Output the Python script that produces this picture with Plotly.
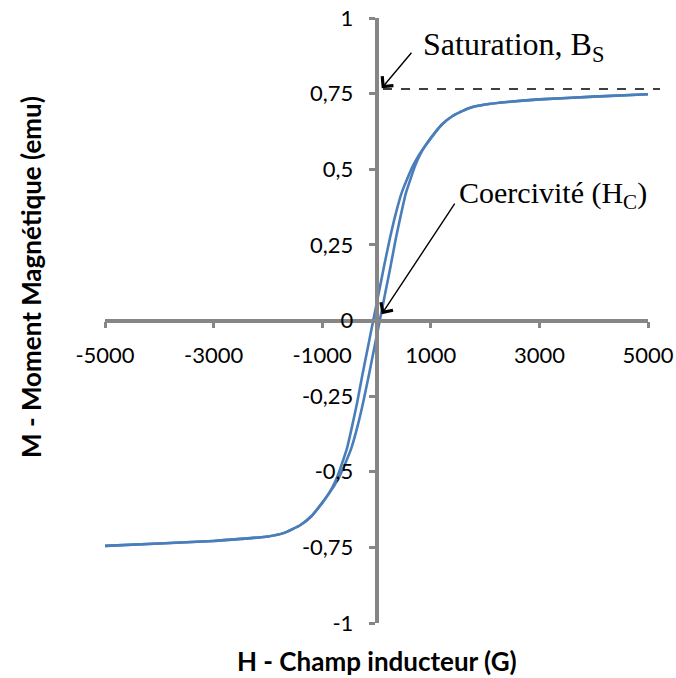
import plotly.graph_objects as go

# ---- data ----
# descending-field branch (from +5000 G to -5000 G)
desc_H = [5000, 4000, 3000, 2500, 2000, 1700, 1400, 1200, 1000, 900, 792, 682, 570, 460, 350, 245, 140, 40,
          -60, -160, -260, -355, -450, -540, -630, -718, -808, -900, -1000, -1200, -1400, -1700, -2000,
          -2500, -3000, -4000, -5000]
desc_M = [0.748, 0.740, 0.731, 0.724, 0.714, 0.702, 0.676, 0.647, 0.603, 0.578, 0.550, 0.515, 0.470, 0.420,
          0.350, 0.270, 0.180, 0.090, 0.0, -0.090, -0.180, -0.270, -0.350, -0.420, -0.470, -0.515, -0.550,
          -0.578, -0.603, -0.647, -0.676, -0.702, -0.714, -0.722, -0.729, -0.737, -0.745]

# ascending-field branch (from -5000 G to +5000 G)
asc_H = [-5000, -4000, -3000, -2500, -2000, -1700, -1400, -1200, -1000, -900, -792, -682, -570, -460, -350,
         -245, -140, -40, 60, 160, 260, 355, 450, 540, 630, 718, 808, 900, 1000, 1200, 1400, 1700, 2000,
         2500, 3000, 4000, 5000]
asc_M = [-0.745, -0.737, -0.729, -0.722, -0.714, -0.702, -0.676, -0.647, -0.603, -0.578, -0.550, -0.515,
         -0.470, -0.420, -0.350, -0.270, -0.180, -0.090, 0.0, 0.090, 0.180, 0.270, 0.350, 0.420, 0.470,
         0.515, 0.550, 0.578, 0.603, 0.647, 0.676, 0.702, 0.714, 0.724, 0.731, 0.740, 0.748]

x_tick_vals = [-5000, -3000, -1000, 1000, 3000, 5000]
x_tick_labels = ["-5000", "-3000", "-1000", "1000", "3000", "5000"]
y_tick_vals = [-1, -0.75, -0.5, -0.25, 0, 0.25, 0.5, 0.75, 1]
y_tick_labels = ["-1", "-0,75", "-0,5", "-0,25", "0", "0,25", "0,5", "0,75", "1"]

saturation_level = 0.765
coercivity_point = (96, 0.021)
saturation_point = (96, 0.768)

x_title = "H - Champ inducteur (G)"
y_title = "M - Moment Magnétique (emu)"

# ---- layout geometry (page pixels) ----
W, H = 676, 678
PL, PR, PT, PB = 105, 648, 18, 623          # plot area in page pixels
L, R, T, B = PL, W - PR, PT, H - PB
PW, PH = PR - PL, PB - PT
LINE_COLOR = "#4a7ebb"
AXIS_COLOR = "#868686"
TICK_FONT = dict(family="Lato", size=22, color="black")


def px_x(p):
    return (p - PL) / PW


def px_y(p):
    return (PB - p) / PH


fig = go.Figure()
for hx, my in ((desc_H, desc_M), (asc_H, asc_M)):
    fig.add_trace(go.Scatter(x=hx, y=my, mode="lines",
                             line=dict(color=LINE_COLOR, width=2.6, shape="spline", smoothing=0.5),
                             hoverinfo="skip"))

axis_common = dict(showline=True, linecolor=AXIS_COLOR, linewidth=3.5, ticks="outside", ticklen=6,
                   tickwidth=3, tickcolor=AXIS_COLOR, showgrid=False, zeroline=False,
                   tickfont=TICK_FONT, anchor="free", position=0.5, ticklabeloverflow="allow")

fig.update_layout(
    width=W, height=H,
    margin=dict(l=L, r=R, t=T, b=B, autoexpand=False),
    plot_bgcolor="white", paper_bgcolor="white",
    showlegend=False,
    xaxis=dict(range=[-5000, 5000], tickvals=x_tick_vals, ticktext=x_tick_labels,
               ticklabelstandoff=8, **axis_common),
    yaxis=dict(range=[-1, 1], tickvals=y_tick_vals, ticktext=y_tick_labels,
               ticklabelstandoff=11, **axis_common),
)

# dashed saturation line
fig.add_shape(type="line", xref="paper", yref="y", x0=px_x(383), x1=px_x(660),
              y0=saturation_level, y1=saturation_level,
              line=dict(color="black", width=1.5, dash="dash"))

# arrows
fig.add_annotation(x=saturation_point[0], y=saturation_point[1], xref="x", yref="y",
                   ax=31, ay=-37, text="", showarrow=True, arrowhead=4, arrowsize=2,
                   arrowwidth=1.4, arrowcolor="black")
fig.add_annotation(x=coercivity_point[0], y=coercivity_point[1], xref="x", yref="y",
                   ax=74, ay=-112, text="", showarrow=True, arrowhead=4, arrowsize=2,
                   arrowwidth=1.4, arrowcolor="black")

# callout texts
fig.add_annotation(x=px_x(421), y=px_y(46), xref="paper", yref="paper", xanchor="left", yanchor="middle",
                   text="Saturation, B<sub>S</sub>", showarrow=False,
                   font=dict(family="Liberation Serif", size=32, color="black"))
fig.add_annotation(x=px_x(457), y=px_y(195), xref="paper", yref="paper", xanchor="left", yanchor="middle",
                   text="Coercivité (H<sub>C</sub>)", showarrow=False,
                   font=dict(family="Liberation Serif", size=30, color="black"))

# axis titles
fig.add_annotation(x=px_x(376.5), y=px_y(661), xref="paper", yref="paper", xanchor="center",
                   yanchor="middle", text=f"<b>{x_title}</b>", showarrow=False,
                   font=dict(family="Lato", size=26, color="black"))
fig.add_annotation(x=px_x(31), y=px_y(277), xref="paper", yref="paper", xanchor="center",
                   yanchor="middle", text=f"<b>{y_title}</b>", showarrow=False, textangle=-90,
                   font=dict(family="Lato", size=26, color="black"))

fig.write_html("out.html", config={"displayModeBar": False},
               post_script="document.body.style.margin='0';")
